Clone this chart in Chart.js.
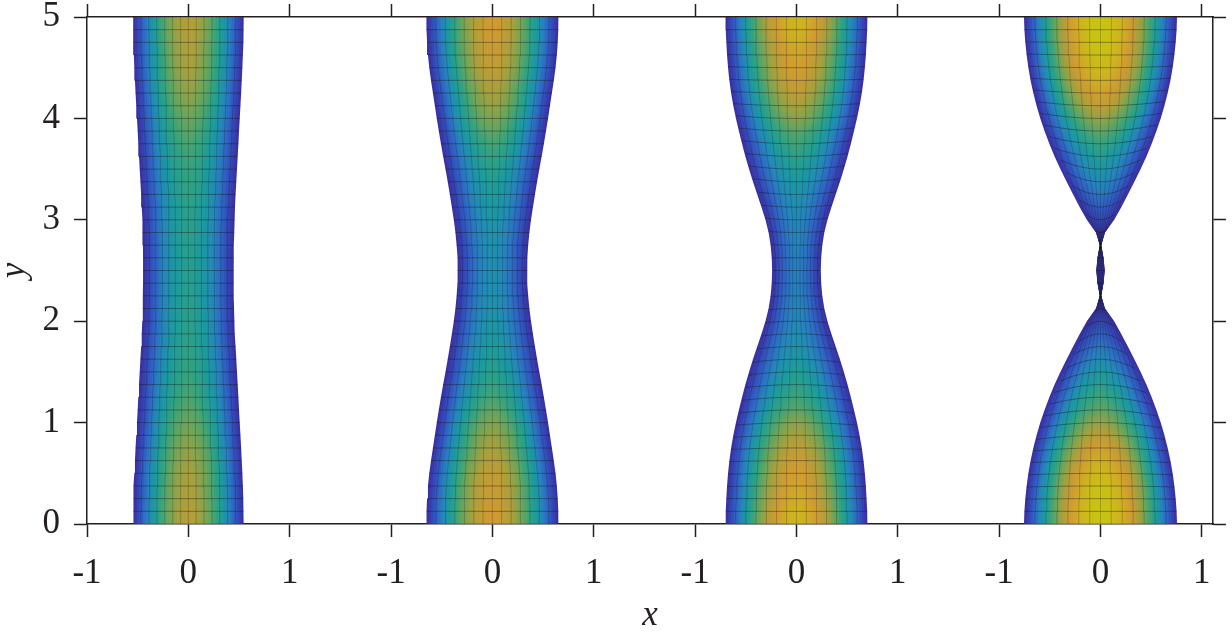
<!DOCTYPE html>
<html>
<head>
<meta charset="utf-8">
<title>Chart</title>
<script src="https://cdn.jsdelivr.net/npm/chart.js@4.4.0/dist/chart.umd.min.js"></script>
<style>
  html, body { margin: 0; padding: 0; background: #fff; }
  canvas { display: block; filter: blur(0.7px); }
</style>
</head>
<body>
<canvas id="chart" width="1232" height="632"></canvas>
<script>
// tick labels repeat for every panel, panels sit at x = 0, 3, 6, 9
const xTickLabels = ['-1', '0', '1', '-1', '0', '1', '-1', '0', '1', '-1', '0', '1'];
const panelCenters = [0, 3, 6, 9];

// mesh rows, y = 0 ... 5
const rowY = [0, 0.125, 0.25, 0.375, 0.5, 0.625, 0.75, 0.875, 1, 1.125, 1.25, 1.375, 1.5, 1.625, 1.75, 1.875, 2, 2.125, 2.25, 2.375, 2.5,
  2.625, 2.75, 2.875, 3, 3.125, 3.25, 3.375, 3.5, 3.625, 3.75, 3.875, 4, 4.125, 4.25, 4.375, 4.5, 4.625, 4.75, 4.875, 5];

// half width of each shape per row
const halfWidth1 = [.546, .545, .542, .538, .533, .527, .521, .514, .507, .5, .494, .487, .48, .473, .466, .46, .455, .451, .448, .447, .447,
  .447, .448, .451, .455, .46, .466, .473, .48, .487, .494, .5, .507, .514, .521, .527, .533, .538, .542, .545, .546];
const halfWidth2 = [.651, .65, .645, .636, .623, .606, .587, .568, .549, .529, .508, .486, .463, .441, .42, .4, .381, .365, .353, .345, .342,
  .345, .353, .365, .381, .4, .42, .441, .463, .486, .508, .529, .549, .568, .587, .606, .623, .636, .645, .65, .651];
const halfWidth3 = [.7, .698, .692, .685, .675, .662, .645, .623, .597, .568, .537, .504, .468, .429, .387, .345, .306, .275, .255, .244, .24,
  .244, .255, .275, .306, .345, .387, .429, .468, .504, .537, .568, .597, .623, .645, .662, .675, .685, .692, .698, .7];
const halfWidth4 = [.755, .751, .742, .729, .712, .69, .663, .631, .594, .552, .505, .453, .396, .334, .27, .205, .135, .045, .006, .03, .042,
  .03, .006, .045, .135, .205, .27, .334, .396, .453, .505, .552, .594, .631, .663, .69, .712, .729, .742, .751, .755];

// colour level on the centre line of each shape per row
const centerTone1 = [.73, .73, .72, .71, .7, .68, .66, .63, .6, .57, .54, .52, .5, .49, .48, .47, .46, .46, .45, .45, .45,
  .45, .45, .46, .46, .47, .48, .49, .5, .52, .54, .57, .6, .63, .66, .68, .7, .71, .72, .73, .73];
const centerTone2 = [.8, .8, .79, .78, .76, .73, .7, .67, .63, .58, .53, .49, .46, .43, .41, .39, .37, .36, .35, .34, .34,
  .34, .35, .36, .37, .39, .41, .43, .46, .49, .53, .58, .63, .67, .7, .73, .76, .78, .79, .8, .8];
const centerTone3 = [.92, .9, .87, .84, .82, .79, .75, .7, .65, .57, .52, .47, .43, .39, .36, .33, .31, .3, .29, .28, .28,
  .28, .29, .3, .31, .33, .36, .39, .43, .47, .52, .57, .65, .7, .75, .79, .82, .84, .87, .9, .92];
const centerTone4 = [1, 1, .99, .97, .93, .88, .82, .75, .67, .58, .52, .45, .39, .32, .25, .17, .1, .04, .01, .03, .04,
  .03, .01, .04, .1, .17, .25, .32, .38, .43, .5, .58, .67, .76, .83, .89, .94, .97, .99, 1, 1];

// how far the mesh rows bow towards the wide end at the edges, per row
const rowSag3 = [0, 0, 0, .005, .01, .01, .015, .02, .025, .03, .03, .03, .03, .03, .025, .02, .015, .01, .005, 0, 0,
  0, -.005, -.01, -.015, -.02, -.025, -.03, -.03, -.03, -.03, -.03, -.025, -.02, -.015, -.01, -.01, -.005, 0, 0, 0];
const rowSag4 = [0, 0, .005, .01, .015, .02, .03, .04, .05, .06, .07, .08, .09, .09, .08, .07, .05, .02, 0, 0, 0,
  0, 0, -.02, -.05, -.07, -.08, -.09, -.09, -.08, -.07, -.06, -.05, -.04, -.03, -.02, -.015, -.01, -.005, 0, 0];

const halfWidths = [halfWidth1, halfWidth2, halfWidth3, halfWidth4];
const centerTones = [centerTone1, centerTone2, centerTone3, centerTone4];
const rowSags = [null, null, rowSag3, rowSag4];

// colour level across a shape, from centre to edge
const crossTone = [1, .995, .985, .975, .96, .94, .92, .9, .875, .85, .82, .79, .755, .72, .685, .645, .6, .555, .51, .46, .41, .355, .3, .245, .19, .13, .075, .02];

// mesh columns as fractions of the half width
const meshColumns = [-1, -6 / 7, -5 / 7, -4 / 7, -3 / 7, -2 / 7, -1 / 7, 0, 1 / 7, 2 / 7, 3 / 7, 4 / 7, 5 / 7, 6 / 7, 1];

// colormap, evenly spaced from level 0 to level 1
const palette = [[58, 46, 158], [52, 72, 184], [47, 102, 196], [37, 134, 187], [27, 154, 159], [50, 163, 128],
  [107, 165, 90], [168, 160, 60], [208, 154, 50], [206, 178, 32], [200, 196, 18]];

const textColor = '#231f20';
const serif = "'Liberation Serif', serif";

function toneColor(t) {
  const p = Math.min(Math.max(t, 0), 1) * (palette.length - 1);
  const i = Math.min(Math.floor(p), palette.length - 2);
  const c = palette[i].map((v, n) => Math.round(v + (palette[i + 1][n] - v) * (p - i)));
  return `rgb(${c[0]},${c[1]},${c[2]})`;
}

// closed outline at fraction s of the half width
function outline(center, widths, s) {
  const left = rowY.map((y, i) => ({ x: center - s * widths[i], y }));
  const right = rowY.map((y, i) => ({ x: center + s * widths[i], y }));
  return left.concat(right.reverse());
}

function bandColor(shape, level) {
  return (ctx) => {
    const { chart } = ctx;
    if (!chart.chartArea) return 'rgba(0,0,0,0)';
    const yScale = chart.scales.y;
    const g = chart.ctx.createLinearGradient(0, yScale.getPixelForValue(0), 0, yScale.getPixelForValue(5));
    rowY.forEach((y, i) => g.addColorStop(y / 5, toneColor(centerTones[shape][i] * crossTone[level])));
    return g;
  };
}

const datasets = [];

// first dataset is drawn on top, so the mesh goes in first
panelCenters.forEach((center, shape) => {
  const widths = halfWidths[shape];
  const sag = rowSags[shape];
  rowY.forEach((y, i) => {
    datasets.push({
      data: meshColumns.map((s) => ({ x: center + s * widths[i], y: y - (sag ? sag[i] * s * s : 0) })),
      showLine: true, pointRadius: 0, borderWidth: 1, borderColor: 'rgba(20,25,30,0.4)'
    });
  });
  meshColumns.slice(1, -1).forEach((s) => {
    datasets.push({
      data: rowY.map((y, i) => ({ x: center + s * widths[i], y })),
      showLine: true, pointRadius: 0, borderWidth: 1, borderColor: 'rgba(20,25,30,0.22)'
    });
  });
});

// nested outlines, innermost first, so no seams show between the bands
panelCenters.forEach((center, shape) => {
  crossTone.forEach((tone, level) => {
    datasets.push({
      data: outline(center, halfWidths[shape], (level + 1) / crossTone.length),
      showLine: true, pointRadius: 0, borderWidth: 0,
      fill: 'shape', backgroundColor: bandColor(shape, level)
    });
  });
});

const tickGrid = { drawOnChartArea: false, tickLength: 13, tickWidth: 1.5, tickColor: textColor };
const axisBorder = { color: textColor, width: 1.5 };
const tickFont = { family: serif, size: 35 };
const titleFont = { family: serif, size: 35, style: 'italic' };

new Chart(document.getElementById('chart').getContext('2d'), {
  type: 'scatter',
  data: { datasets },
  options: {
    responsive: false,
    animation: false,
    events: [],
    layout: { padding: 0 },
    plugins: { legend: { display: false }, tooltip: { enabled: false } },
    scales: {
      x: {
        type: 'linear', position: 'bottom', min: -1, max: 10.11,
        border: axisBorder, grid: tickGrid,
        afterFit: (s) => { s.height = 108; s.paddingLeft = 0; s.paddingRight = 0; },
        title: { display: true, text: 'x', color: textColor, font: titleFont, padding: { top: 0, bottom: -5 } },
        ticks: {
          stepSize: 1, includeBounds: false, autoSkip: false, maxRotation: 0, padding: 16,
          color: textColor, font: tickFont,
          callback: (v, i) => xTickLabels[i]
        }
      },
      x2: {
        type: 'linear', position: 'top', min: -1, max: 10.11,
        border: axisBorder, grid: tickGrid,
        afterFit: (s) => { s.height = 17; s.paddingLeft = 0; s.paddingRight = 0; },
        ticks: { stepSize: 1, includeBounds: false, autoSkip: false, display: false }
      },
      y: {
        type: 'linear', position: 'left', min: 0, max: 5,
        border: axisBorder, grid: tickGrid,
        afterFit: (s) => { s.width = 87; s.paddingTop = 0; s.paddingBottom = 0; },
        title: { display: true, text: 'y', color: textColor, font: titleFont, padding: { top: -6, bottom: 0 } },
        ticks: { stepSize: 1, padding: 14, color: textColor, font: tickFont }
      },
      y2: {
        type: 'linear', position: 'right', min: 0, max: 5,
        border: axisBorder, grid: tickGrid,
        afterFit: (s) => { s.width = 19; s.paddingTop = 0; s.paddingBottom = 0; },
        ticks: { stepSize: 1, display: false }
      }
    }
  }
});
</script>
</body>
</html>
